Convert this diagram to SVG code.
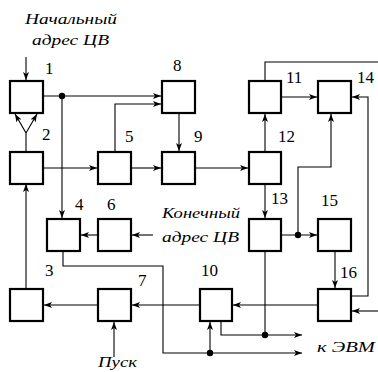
<svg xmlns="http://www.w3.org/2000/svg" width="378" height="372" viewBox="0 0 378 372">
<defs>
<marker id="a" markerWidth="9" markerHeight="7" refX="8" refY="3.5" orient="auto" markerUnits="userSpaceOnUse">
<path d="M0,0.5 L8,3.5 L0,6.5 L2,3.5 z" fill="#000"/>
</marker>
<style>
.b{fill:#fff;stroke:#000;stroke-width:2.2}
.c{fill:none;stroke:#000;stroke-width:1.1}
.ar{marker-end:url(#a)}
.n{font-family:"Liberation Serif","Tinos","Noto Serif","DejaVu Serif","FreeSerif","Times New Roman",serif;font-size:17px;fill:#000}
.t{font-family:"Liberation Serif","Tinos","Noto Serif","DejaVu Serif","FreeSerif","Times New Roman",serif;font-style:italic;font-size:15px;fill:#000}
</style>
</defs>
<rect width="378" height="372" fill="#fff"/>
<g id="connectors">
<path class="c ar" d="M26,57 V80"/>
<path class="c ar" d="M43,96 H161"/>
<path class="c ar" d="M62,96 V218"/>
<path class="c ar" d="M26,152 V133 L15,114"/>
<path class="c ar" d="M26,133 L37,114"/>
<path class="c ar" d="M43,168 H97"/>
<path class="c ar" d="M115,152 V104 H161"/>
<path class="c ar" d="M131,168 H161"/>
<path class="c ar" d="M179,113 V151"/>
<path class="c ar" d="M195,168 H248"/>
<path class="c ar" d="M265,152 V114"/>
<path class="c" d="M265,81 V62 H378"/>
<path class="c ar" d="M281,97 H317"/>
<path class="c ar" d="M298,235 V167 H331 V114"/>
<path class="c ar" d="M351,296 H368 V97 H352"/>
<path class="c ar" d="M378,311 H352"/>
<path class="c ar" d="M265,184 V218"/>
<path class="c ar" d="M281,235 H317"/>
<path class="c ar" d="M335,251 V288"/>
<path class="c ar" d="M318,305 H233"/>
<path class="c" d="M265,251 V335"/>
<path class="c ar" d="M221,321 V335 H302"/>
<path class="c ar" d="M63,251 V266 H163 V353 H302"/>
<path class="c ar" d="M210,353 V322"/>
<path class="c ar" d="M200,305 H132"/>
<path class="c ar" d="M98,305 H44"/>
<path class="c ar" d="M26,289 V184"/>
<path class="c ar" d="M98,235 H81"/>
<path class="c ar" d="M153,235 H132"/>
<path class="c ar" d="M114,357 V322"/>
<circle cx="62" cy="96" r="3.2"/>
<circle cx="298" cy="235" r="3.2"/>
<circle cx="265" cy="335" r="3.2"/>
<circle cx="210" cy="353" r="3.2"/>
</g>
<g id="n1"><rect class="b" x="10" y="81" width="33" height="32"/><text class="n" x="45" y="74">1</text></g>
<g id="n2"><rect class="b" x="10" y="152" width="33" height="32"/><text class="n" x="42" y="140">2</text></g>
<g id="n3"><rect class="b" x="10" y="289" width="33" height="32"/><text class="n" x="45" y="276">3</text></g>
<g id="n4"><rect class="b" x="47" y="219" width="33" height="32"/><text class="n" x="75" y="210">4</text></g>
<g id="n5"><rect class="b" x="98" y="152" width="33" height="32"/><text class="n" x="125" y="142">5</text></g>
<g id="n6"><rect class="b" x="98" y="219" width="33" height="32"/><text class="n" x="107" y="210">6</text></g>
<g id="n7"><rect class="b" x="98" y="289" width="33" height="32"/><text class="n" x="138" y="286">7</text></g>
<g id="n8"><rect class="b" x="162" y="81" width="33" height="32"/><text class="n" x="173" y="71">8</text></g>
<g id="n9"><rect class="b" x="162" y="152" width="33" height="32"/><text class="n" x="194" y="142">9</text></g>
<g id="n10"><rect class="b" x="200" y="289" width="32" height="32"/><text class="n" x="201" y="276">10</text></g>
<g id="n11"><rect class="b" x="249" y="81" width="32" height="32"/><text class="n" x="286" y="83">11</text></g>
<g id="n12"><rect class="b" x="249" y="152" width="32" height="32"/><text class="n" x="278" y="142">12</text></g>
<g id="n13"><rect class="b" x="249" y="219" width="32" height="32"/><text class="n" x="271" y="204">13</text></g>
<g id="n14"><rect class="b" x="318" y="81" width="33" height="32"/><text class="n" x="357" y="83">14</text></g>
<g id="n15"><rect class="b" x="318" y="219" width="33" height="32"/><text class="n" x="321" y="206">15</text></g>
<g id="n16"><rect class="b" x="318" y="289" width="33" height="32"/><text class="n" x="340" y="278">16</text></g>
<g id="labels">
<text class="t" x="25" y="24" textLength="92" lengthAdjust="spacingAndGlyphs">Начальный</text>
<text class="t" x="32" y="45" textLength="77" lengthAdjust="spacingAndGlyphs">адрес ЦВ</text>
<text class="t" x="162" y="218" textLength="78" lengthAdjust="spacingAndGlyphs">Конечный</text>
<text class="t" x="162" y="242" textLength="77" lengthAdjust="spacingAndGlyphs">адрес ЦВ</text>
<text class="t" x="317" y="352" textLength="58" lengthAdjust="spacingAndGlyphs">к ЭВМ</text>
<text class="t" x="98" y="367" textLength="39" lengthAdjust="spacingAndGlyphs">Пуск</text>
</g>
</svg>
